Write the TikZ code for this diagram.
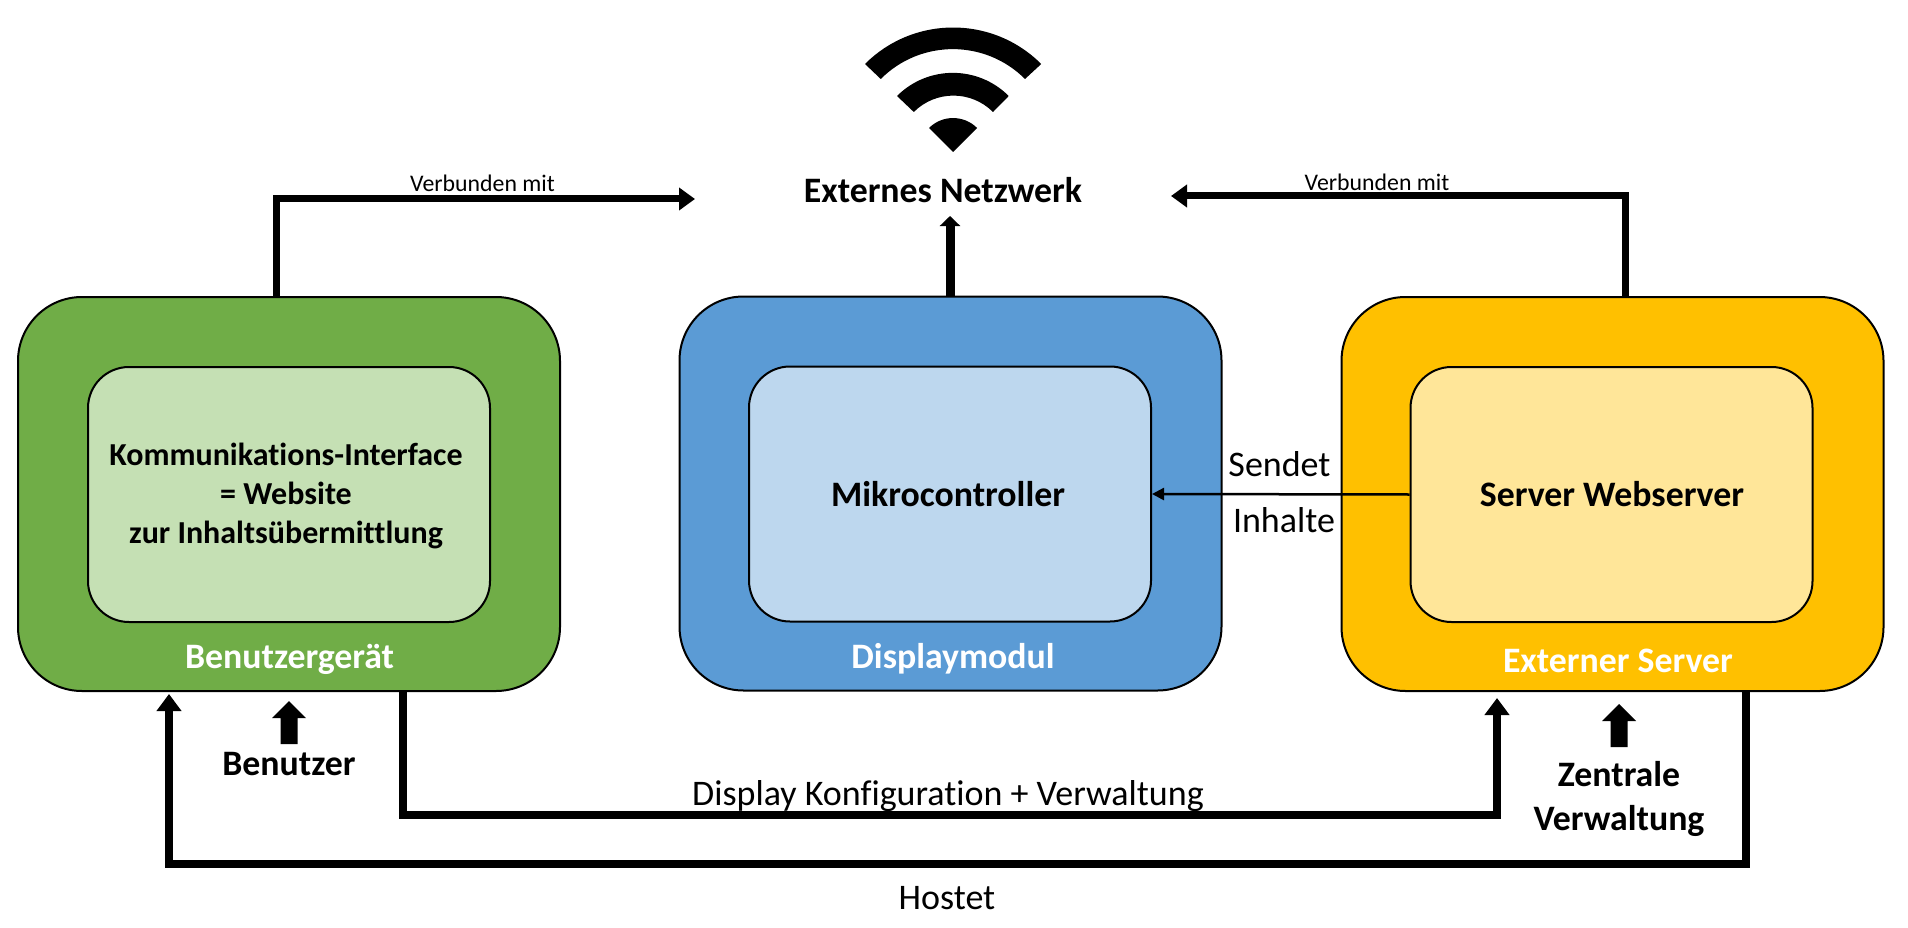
\documentclass[tikz,border=0pt]{standalone}
\usepackage{fontspec}
\setmainfont[Ligatures=CommonOff]{Carlito}
\usetikzlibrary{arrows.meta}
\definecolor{gOut}{HTML}{70AD47}\definecolor{gIn}{HTML}{C5E0B4}
\definecolor{bOut}{HTML}{5B9BD5}\definecolor{bIn}{HTML}{BDD7EE}
\definecolor{oOut}{HTML}{FFC000}\definecolor{oIn}{HTML}{FFE699}
\tikzset{
 outerbox/.style={draw=black,line width=2pt,rounded corners=64pt,minimum width=542pt,minimum height=394pt,inner sep=0pt},
 innerbox/.style={draw=black,line width=2pt,rounded corners=41pt,minimum width=402pt,minimum height=255pt,inner sep=0pt},
 lbl/.style={inner sep=0pt,align=center},
 bf/.style={lbl,font=\bfseries\fontsize{32}{39}\selectfont},
 bfbig/.style={lbl,font=\bfseries\fontsize{35.8}{44}\selectfont},
 wh/.style={lbl,text=white,font=\bfseries\fontsize{35.8}{36}\selectfont},
 reg/.style={lbl,font=\fontsize{36}{40}\selectfont},
 small/.style={lbl,font=\fontsize{23.8}{25}\selectfont},
 conn/.style={line width=7pt,miter limit=10},
 tipA/.style={-{Triangle[length=16pt,width=22pt]}},
 tipB/.style={-{Triangle[length=17pt,width=24pt]}},
 tipC/.style={-{Triangle[length=10pt,width=20pt]}},
 block/.style={fill=black},
}
\begin{document}
\begin{tikzpicture}[x=1pt,y=-1pt]
\useasboundingbox (0,0) rectangle (1908,928);
% outer and inner boxes
\node[outerbox,fill=gOut] (gO) at (289,494) {};
\node[outerbox,fill=bOut] (bO) at (950.5,493.5) {};
\node[outerbox,fill=oOut] (oO) at (1612.5,494) {};
\node[innerbox,fill=gIn] (gI) at (289,494.5) {};
\node[innerbox,fill=bIn] (bI) at (950,494) {};
\node[innerbox,fill=oIn] (oI) at (1611.5,494.5) {};
% wifi symbol
\fill[black] (865,64) arc[start angle=135,end angle=45,radius=124.6pt] -- (1025,79) arc[start angle=45,end angle=135,radius=102pt] -- cycle;
\fill[black] (897,96) arc[start angle=135,end angle=45,radius=79pt] -- (993,112) arc[start angle=45,end angle=135,radius=56pt] -- cycle;
\fill[black] (929,128) arc[start angle=135,end angle=45,radius=34pt] -- (953,152) -- cycle;
% texts
\node[bfbig] (net) at (943,190) {Externes Netzwerk};
\node[bf] (kom) at (286,495.5) {Kommunikations-Interface\\= Website\\ zur Inhaltsübermittlung};
\node[bfbig] (mc) at (948,494) {Mikrocontroller};
\node[bfbig] (sw) at (1612,494) {Server Webserver};
\node[wh] (lg) at (289.6,659) {Benutzergerät};
\node[wh] (lb) at (953,659) {Displaymodul};
\node[wh] (lo) at (1618,661) {Externer Server};
\node[bfbig] (ben) at (289,764) {Benutzer};
\node[bfbig] (zen) at (1619,798.5) {Zentrale\\Verwaltung};
\node[reg] (dk) at (948,796) {Display Konfiguration + Verwaltung};
\node[reg] (hos) at (947,898) {Hostet};
\node[reg] (sen) at (1279.5,464) {Sendet};
\node[reg] (inh) at (1284,520) {Inhalte};
\node[small] (v1) at (482.5,183) {Verbunden mit};
\node[small] (v2) at (1377,182) {Verbunden mit};
% connector end points
\coordinate (c1) at (gO.north -| 276.5,0);
\coordinate (c1e) at (695,199);
\coordinate (c2e) at (1171,196);
\coordinate (c2) at (oO.north -| 1625.6,0);
\coordinate (c3) at (bO.north -| 950,0);
\coordinate (c3e) at (950,216);
\coordinate (c4) at (gO.south -| 403,0);
\coordinate (c4e) at (1497,698);
\coordinate (c5) at (oO.south -| 1746,0);
\coordinate (c5e) at (169,694);
% connectors
\draw[conn,tipA] (c1) |- (c1e);
\draw[conn,tipA] (c2) |- (c2e);
\draw[line width=9pt,tipC] (c3) -- (c3e);
\draw[conn,line width=7.5pt,tipB] (c4) |- (815,815) -| (c4e);
\draw[conn,line width=8.3pt,tipB] (c5) |- (500,864) -| (c5e);
\draw[line width=2.5pt,-{Triangle[length=12pt,width=12pt]}] (oI.west) -- (bI.east);
% block arrows
\fill[block] (289,701) -- (306,718) -- (297.5,718) -- (297.5,744) -- (280.5,744) -- (280.5,718) -- (272,718) -- cycle;
\fill[block] (1619,704) -- (1636,721) -- (1627.5,721) -- (1627.5,747) -- (1610.5,747) -- (1610.5,721) -- (1602,721) -- cycle;
\end{tikzpicture}
\end{document}
